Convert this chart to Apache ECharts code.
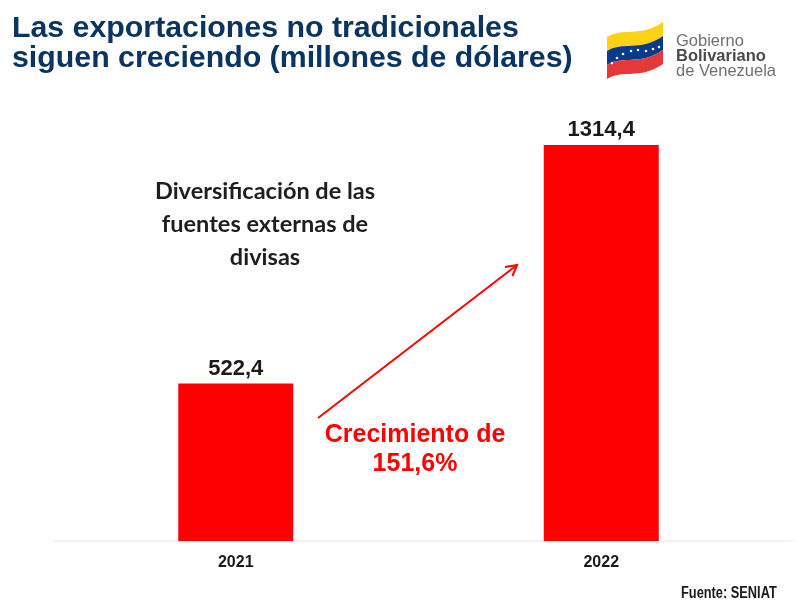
<!DOCTYPE html>
<html>
<head>
<meta charset="utf-8">
<script src="https://cdn.jsdelivr.net/npm/echarts@6/dist/echarts.min.js"></script>
<style>
html,body{margin:0;padding:0;background:#fff;}
#chart{width:806px;height:608px;}
</style>
</head>
<body>
<div id="chart"></div>
<script>
const categories = ['2021', '2022'];
const exportValues = [522.4, 1314.4];
const titleLines = ['Las exportaciones no tradicionales', 'siguen creciendo (millones de dólares)'];
const noteLines = ['Diversificación de las', 'fuentes externas de', 'divisas'];
const growthLines = ['Crecimiento de', '151,6%'];
const sourceText = 'Fuente: SENIAT';
const logoLines = ['Gobierno', 'Bolivariano', 'de Venezuela'];

const fmt = v => v.toFixed(1).replace('.', ',');

const chart = echarts.init(document.getElementById('chart'));

// decorative logo flag: wavy bands sampled from a cubic curve
function curvePts(off, reverse) {
  const p0 = [607, 37 + off], p1 = [622, 27 + off], p2 = [640, 38 + off], p3 = [663, 22 + off];
  const pts = [];
  for (let i = 0; i <= 20; i++) {
    const t = i / 20, u = 1 - t;
    pts.push([
      u*u*u*p0[0] + 3*u*u*t*p1[0] + 3*u*t*t*p2[0] + t*t*t*p3[0],
      u*u*u*p0[1] + 3*u*u*t*p1[1] + 3*u*t*t*p2[1] + t*t*t*p3[1]
    ]);
  }
  return reverse ? pts.reverse() : pts;
}
function band(top, bot) {
  return curvePts(top, false).concat(curvePts(bot, true));
}
const starPts = [[612,63],[617,58],[623,54],[631,51],[638,50],[646,51],[653,49],[659,47]];

const graphics = [
  {
    type: 'text', x: 12, y: 14,
    style: { text: titleLines.join('\n'), font: 'bold 30.3px Arial, "Liberation Sans", sans-serif',
      fill: '#0a3563', lineHeight: 30 }
  },
  { type: 'polygon', shape: { points: band(0, 14) }, style: { fill: '#fcd116' } },
  { type: 'polygon', shape: { points: band(14, 28) }, style: { fill: '#083a8c' } },
  { type: 'polygon', shape: { points: band(28, 42) }, style: { fill: '#e53939' } },
  ...starPts.map(p => ({ type: 'circle', shape: { cx: p[0], cy: p[1], r: 1.3 }, style: { fill: '#fff' } })),
  {
    type: 'text', x: 676, y: 33,
    style: { text: logoLines[0], font: '16.5px Arial, "Liberation Sans", sans-serif', fill: '#707070' }
  },
  {
    type: 'text', x: 676, y: 48,
    style: { text: logoLines[1], font: 'bold 16.5px Arial, "Liberation Sans", sans-serif', fill: '#4a4a4a' }
  },
  {
    type: 'text', x: 676, y: 63,
    style: { text: logoLines[2], font: '16.5px Arial, "Liberation Sans", sans-serif', fill: '#707070' }
  },
  {
    type: 'text', x: 265, y: 175,
    style: { text: noteLines.join('\n'), font: 'bold 23.5px Lato, "Noto Sans", sans-serif', fill: '#1e1e1e',
      align: 'center', lineHeight: 33 }
  },
  {
    type: 'polyline', shape: { points: [[318, 418], [517, 265]] },
    style: { stroke: '#ff0000', lineWidth: 2 }
  },
  {
    type: 'polyline', shape: { points: [[505, 267], [517, 265], [512.4, 276]] },
    style: { stroke: '#ff0000', lineWidth: 2, fill: null }
  },
  {
    type: 'text', x: 415, y: 421,
    style: { text: growthLines.join('\n'), font: 'bold 25px Arial, "Liberation Sans", sans-serif', fill: '#ff0000',
      align: 'center', lineHeight: 29 }
  },
  {
    type: 'text', x: 681, y: 586, scaleX: 0.8,
    style: { text: sourceText, font: 'bold 16px Arial, "Liberation Sans", sans-serif', fill: '#1a1a1a',
      align: 'left' }
  },
  {
    type: 'line', shape: { x1: 53, y1: 541, x2: 795, y2: 541 },
    style: { stroke: '#ececec', lineWidth: 1 }
  }
];

chart.setOption({
  backgroundColor: '#ffffff',
  animation: false,
  grid: { left: 53, right: 22, top: 89, bottom: 67 },
  xAxis: {
    type: 'category',
    data: categories,
    axisLine: { show: true, lineStyle: { color: '#ececec' } },
    axisTick: { show: false },
    axisLabel: { margin: 14, color: '#1a1a1a', fontSize: 16, fontWeight: 'bold',
      fontFamily: 'Arial, "Liberation Sans", sans-serif' }
  },
  yAxis: { type: 'value', min: 0, max: 1500, show: false, splitLine: { show: false } },
  series: [{
    type: 'bar',
    data: exportValues,
    barWidth: 115,
    itemStyle: { color: '#ff0000' },
    label: {
      show: true, position: 'top', distance: 4,
      formatter: p => fmt(p.value),
      color: '#1a1a1a', fontSize: 22, fontWeight: 'bold', fontFamily: 'Arial, "Liberation Sans", sans-serif'
    }
  }],
  graphic: graphics
});
</script>
</body>
</html>
